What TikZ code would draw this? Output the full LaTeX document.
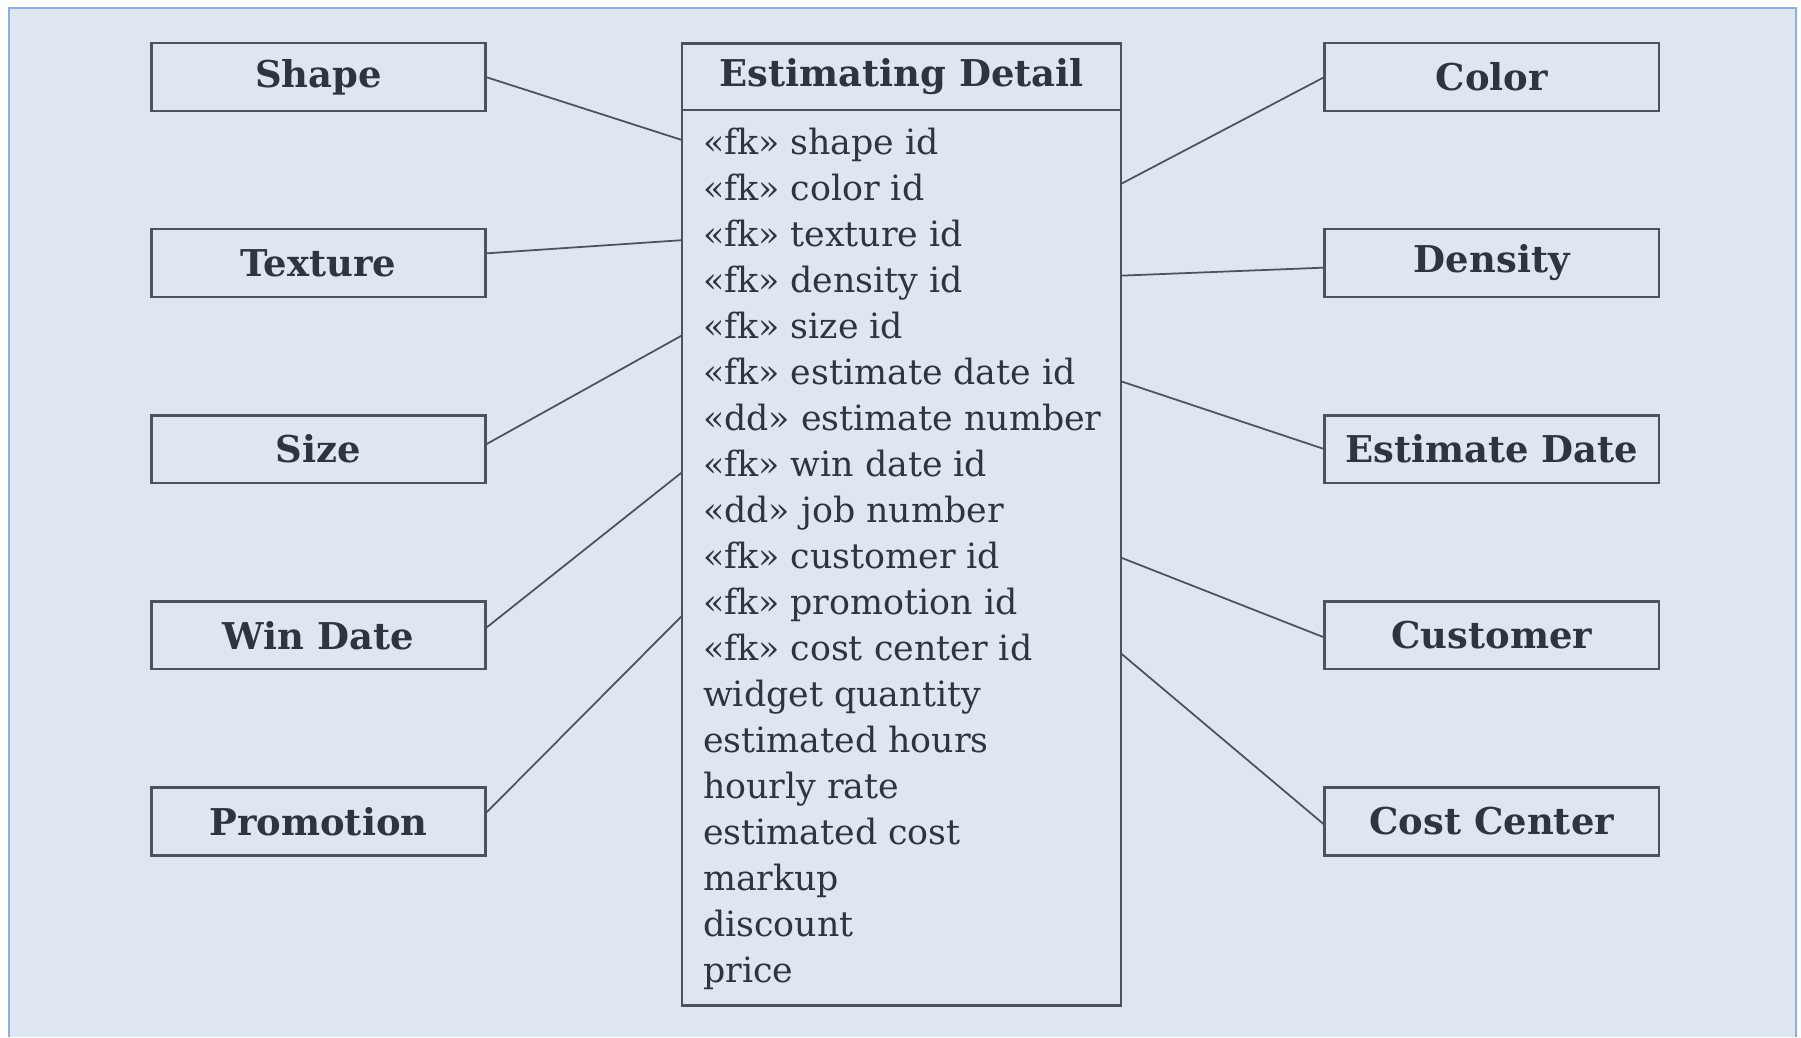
\documentclass[tikz,border=0pt]{standalone}
\usepackage{fontspec}
\setmainfont{DejaVu Serif}
\usepackage{tikz}
\usetikzlibrary{positioning, calc}

\definecolor{panelfill}{RGB}{222,230,241}
\definecolor{panelrule}{RGB}{143,174,218}
\definecolor{boxline}{RGB}{76,82,94}
\definecolor{ink}{RGB}{46,52,64}

\begin{document}
\begin{tikzpicture}[x=0.02297cm, y=-0.02297cm,
        entity/.style={draw=boxline, line width=1.4pt, minimum width=6.684cm, minimum height=1.355cm,
            inner sep=0pt, outer sep=0pt, text=ink, font=\fontsize{21}{21}\selectfont\bfseries},
        title/.style={entity, minimum width=8.78cm, minimum height=1.332cm},
        attrbox/.style={draw=boxline, line width=1.4pt, minimum width=8.78cm, minimum height=17.894cm,
            inner sep=0pt, outer sep=0pt},
        attr/.style={anchor=west, inner sep=0pt, text=ink, text height=1.25em, text depth=0.05em,
            font=\fontsize{19.8}{19.8}\selectfont},
        link/.style={draw=boxline, line width=1pt}]
    \useasboundingbox (0,0) rectangle (1568,903);
    % background panel
    \fill[panelfill] (8,7) rectangle (1564,903);
    \draw[panelrule, line width=1.2pt] (8,903) -- (8,7) -- (1564,7) -- (1564,903);

    % fact table
    \node[title] (head) at (785,67) {Estimating Detail};
    \node[attrbox] (body) [below=0pt of head] {};
    \foreach \attrtext [count=\i] in {«fk» shape id, «fk» color id, «fk» texture id, «fk» density id,
            «fk» size id, «fk» estimate date id, «dd» estimate number, «fk» win date id, «dd» job number,
            «fk» customer id, «fk» promotion id, «fk» cost center id, widget quantity, estimated hours,
            hourly rate, estimated cost, markup, discount, price}
        \node[attr] (a\i) at ([xshift=0.413cm, yshift={-0.666cm-(\i-1)*0.920cm}]body.north west) {\attrtext};

    % dimensions, left
    \node[entity] (shape) [left=3.928cm of head] {Shape};
    \node[entity] (texture) [below=2.366cm of shape] {Texture};
    \node[entity] (size) [below=2.366cm of texture] {Size};
    \node[entity] (windate) [below=2.366cm of size] {Win Date};
    \node[entity] (promotion) [below=2.366cm of windate] {Promotion};

    % dimensions, right
    \node[entity] (color) [right=4.066cm of head] {Color};
    \node[entity] (density) [below=2.366cm of color] {Density};
    \node[entity] (estdate) [below=2.366cm of density] {Estimate Date};
    \node[entity] (customer) [below=2.366cm of estdate] {Customer};
    \node[entity] (costcenter) [below=2.366cm of customer] {Cost Center};

    \draw[link] (shape.east) -- ($(body.west |- a1)+(0,2pt)$);
    \draw[link] ([yshift=5.5pt]texture.east) -- ($(body.west |- a3)+(0,-2.6pt)$);
    \draw[link] ([yshift=2.6pt]size.east) -- ($(body.west |- a5)+(0,-4.4pt)$);
    \draw[link] ([yshift=4pt]windate.east) -- ($(body.west |- a8)+(0,-3.7pt)$);
    \draw[link] ([yshift=4.6pt]promotion.east) -- ($(body.west |- a11)+(0,-6.8pt)$);

    \draw[link] (color.west) -- ($(body.east |- a2)+(0,3.3pt)$);
    \draw[link] ([yshift=-2.6pt]density.west) -- ($(body.east |- a4)+(0,3.4pt)$);
    \draw[link] (estdate.west) -- ($(body.east |- a6)+(0,-4.4pt)$);
    \draw[link] ([yshift=-1.3pt]customer.west) -- (body.east |- a10);
    \draw[link] ([yshift=-2pt]costcenter.west) -- ($(body.east |- a12)+(0,-2.2pt)$);
\end{tikzpicture}
\end{document}
